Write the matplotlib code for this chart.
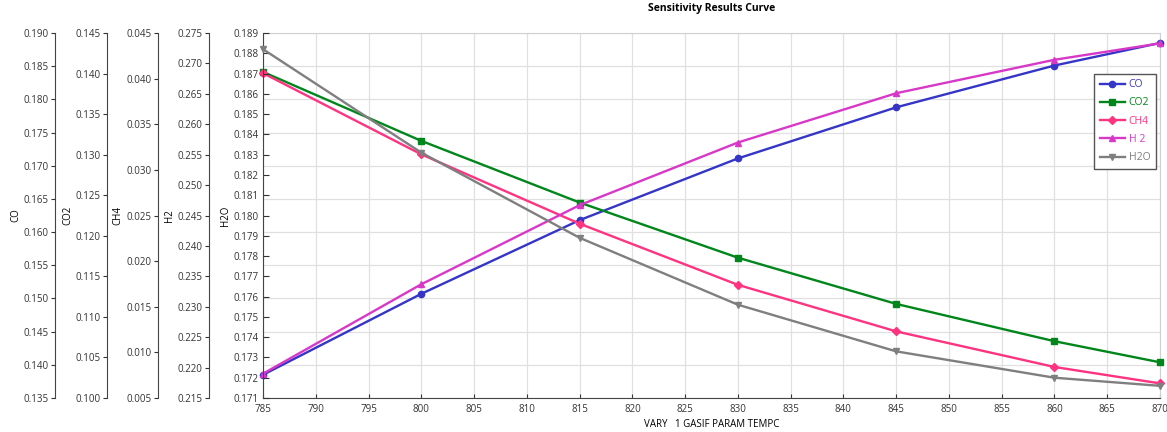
import matplotlib
matplotlib.use("Agg")
import matplotlib.pyplot as plt
from matplotlib.ticker import FormatStrFormatter, MultipleLocator
import numpy as np

plt.rcParams["font.family"] = ["Open Sans", "DejaVu Sans"]
plt.rcParams["font.size"] = 7

# data
temp = [785, 800, 815, 830, 845, 860, 870]
co = [0.1385, 0.1507, 0.1618, 0.1711, 0.1788, 0.1851, 0.1885]
co2 = [0.1402, 0.1317, 0.1241, 0.1173, 0.1116, 0.1070, 0.1044]
ch4 = [0.0406, 0.0317, 0.0241, 0.0174, 0.0123, 0.0084, 0.0066]
h2 = [0.2190, 0.2337, 0.2467, 0.2570, 0.2651, 0.2706, 0.2733]
h2o = [0.1882, 0.1831, 0.1789, 0.1756, 0.1733, 0.1720, 0.1716]

series = ["CO", "CO2", "CH4", "H2", "H2O"]
legend_names = ["CO", "CO2", "CH4", "H 2", "H2O"]
values = [co, co2, ch4, h2, h2o]
limits = [(0.135, 0.190), (0.100, 0.145), (0.005, 0.045), (0.215, 0.275), (0.171, 0.189)]
steps = [0.005, 0.005, 0.005, 0.005, 0.001]
colors = ["#3535c8", "#00861a", "#ff3380", "#d838c8", "#7f7f7f"]
markers = ["o", "s", "D", "^", "v"]
spine_pos = [-0.2319, -0.1739, -0.1171, -0.0602, 0.0]

fig = plt.figure(figsize=(11.67, 4.32), dpi=100)
host = fig.add_axes([0.2254, 0.0787, 0.7686, 0.8449])

# host carries CO and the grid, the others are twins with left spines pushed out
axes = [host] + [host.twinx() for _ in range(4)]
handles = []
for i, ax in enumerate(axes):
    ln, = ax.plot(temp, values[i], color=colors[i], marker=markers[i],
                  lw=1.7, ms=4.5 if markers[i] != "D" else 4, label=legend_names[i],
                  clip_on=False, zorder=3)
    handles.append(ln)
    ax.set_ylim(*limits[i])
    ax.yaxis.set_major_locator(MultipleLocator(steps[i]))
    ax.yaxis.set_major_formatter(FormatStrFormatter("%.3f"))
    ax.yaxis.set_ticks_position("left")
    ax.yaxis.set_label_position("left")
    ax.spines["left"].set_visible(True)
    ax.spines["left"].set_position(("axes", spine_pos[i]))
    ax.spines["left"].set_color("#444444")
    ax.set_ylabel(series[i], labelpad=2)
    if i > 0:
        for s in ["right", "top", "bottom"]:
            ax.spines[s].set_visible(False)
    if i == 4:
        ax.tick_params(axis="y", direction="in", length=4, pad=3, colors="#333333")
    else:
        ax.tick_params(axis="y", direction="out", length=3, pad=1.5, colors="#333333")

host.set_xlim(785, 870)
host.xaxis.set_major_locator(MultipleLocator(5))
host.tick_params(axis="x", direction="in", length=3, pad=4, colors="#333333")
host.grid(True, color="#e0e0e0", lw=0.9)
host.set_axisbelow(True)
for s in ["top", "right"]:
    host.spines[s].set_color("#d0d0d0")
host.spines["bottom"].set_color("#444444")
host.set_xlabel("VARY   1 GASIF PARAM TEMPC", labelpad=3)
host.set_title("Sensitivity Results Curve", fontweight="bold", fontsize=7.5, pad=16)

leg = axes[-1].legend(handles, legend_names, loc="upper left",
                      bbox_to_anchor=(0.921, 0.902), fontsize=7.5, fancybox=False,
                      edgecolor="#555555", framealpha=1, handlelength=2.4,
                      labelspacing=0.7, borderpad=0.5, handletextpad=0.4)
for txt, c in zip(leg.get_texts(), colors):
    txt.set_color(c)

fig.savefig("out.png", dpi=100)
